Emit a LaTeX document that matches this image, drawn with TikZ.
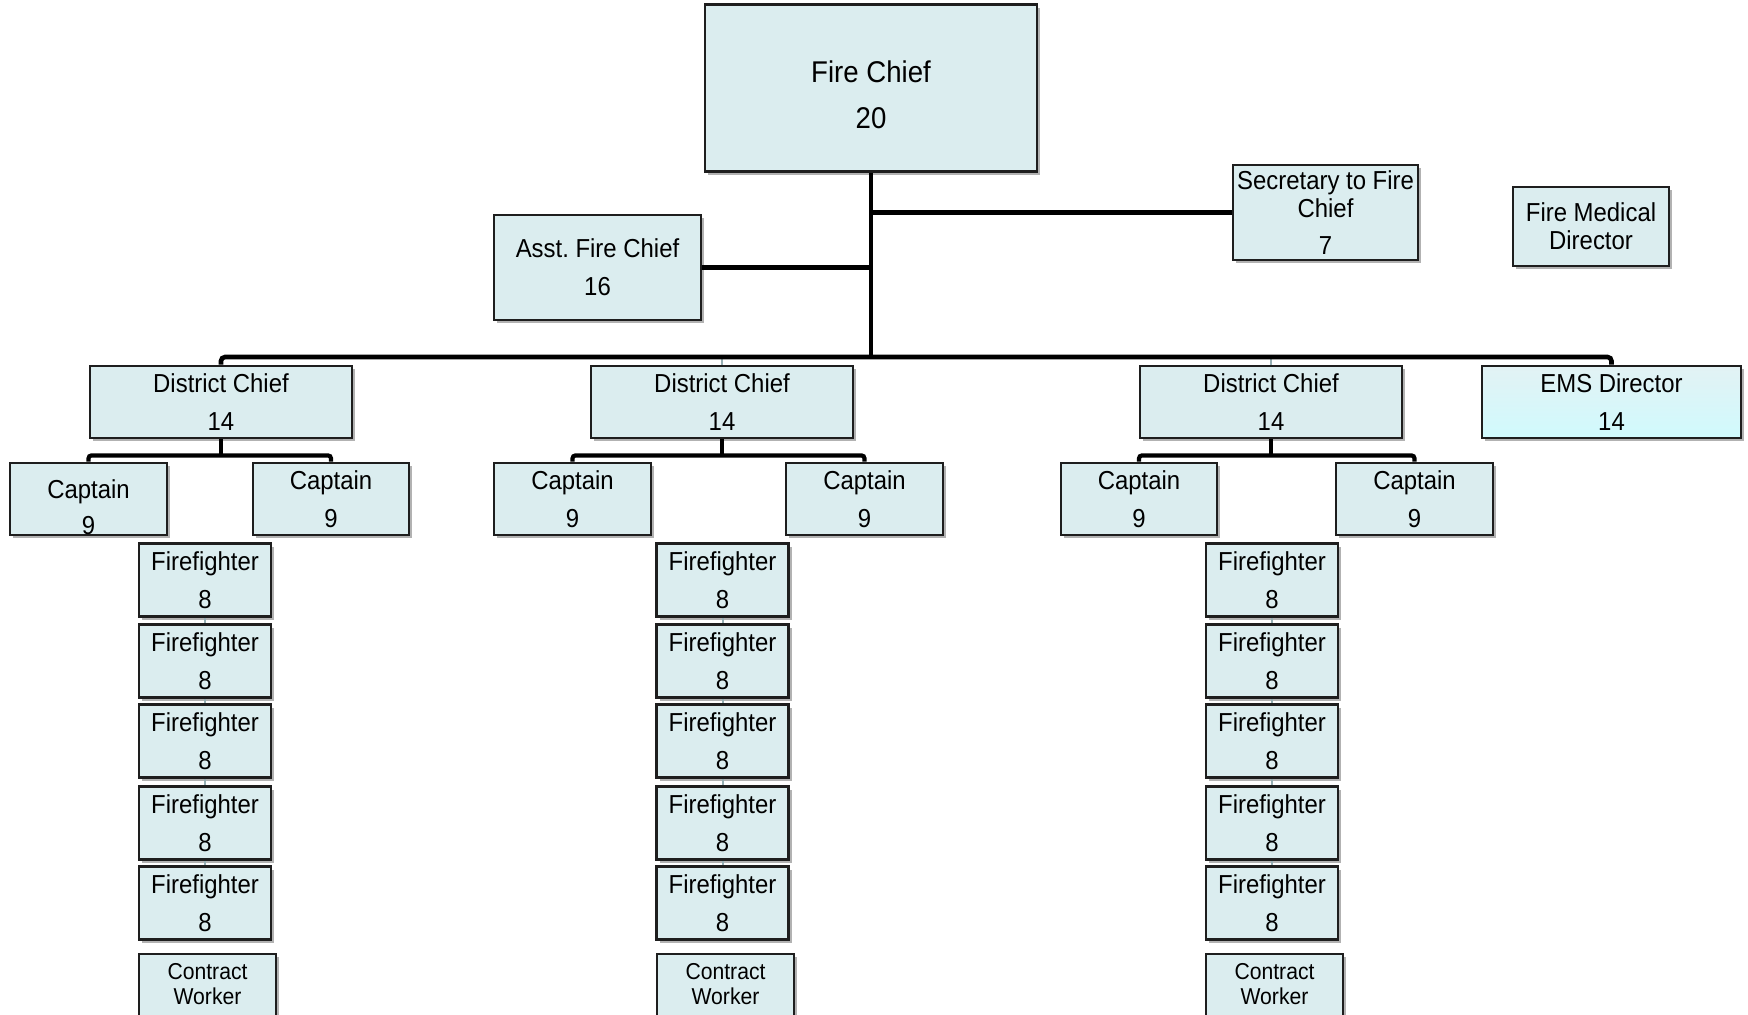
\documentclass[tikz,border=0pt]{standalone}
\usepackage{fontspec}
\setmainfont{Liberation Sans}[FakeStretch=0.92]
\usetikzlibrary{shadows,calc}
\definecolor{boxfill}{RGB}{219,237,239}
\definecolor{boxline}{RGB}{30,30,30}
\definecolor{faintline}{RGB}{150,175,180}
\begin{document}
\begin{tikzpicture}[x=0.5pt,y=-0.5pt,
  orgbox/.style={rectangle,draw=boxline,line width=1.4pt,fill=boxfill,
    inner sep=0pt,align=center,
    drop shadow={shadow xshift=1.5pt,shadow yshift=-1.5pt,opacity=0.3,fill=black}},
  sz/.style 2 args={minimum width=#1*0.5pt,minimum height=#2*0.5pt},
  std/.style={font=\fontsize{13}{19}\selectfont},
  conn/.style={line width=2.3pt,black},
  sub/.style={line width=2.1pt,black},
  faint/.style={line width=1pt,faintline},
  plain/.style={inner sep=0pt,align=center}]
\useasboundingbox (0,0) rectangle (1748,1014);
\clip (0,0) rectangle (1748,1014);

% top level
\node[orgbox,sz={332}{167}] (fc) at (871,88) {};
\node[plain,font=\fontsize{15}{23}\selectfont] (fct) at (871,95) {Fire Chief\\20};
\node[orgbox,sz={207}{105},std] (asst) at (597.5,267.5) {Asst.\ Fire Chief\\16};
\node[orgbox,sz={185}{95},font=\fontsize{13}{14}\selectfont] (sec) at (1325.5,212.5) {Secretary to Fire\\Chief\\[4.5pt]7};
\node[orgbox,sz={156}{79},font=\fontsize{13}{14}\selectfont] (fmd) at (1591,226.5) {Fire Medical\\Director};

% district level
\node[orgbox,sz={262}{72},std] (dc1) at (221,402) {District Chief\\14};
\node[orgbox,sz={262}{72},std] (dc2) at (722,402) {District Chief\\14};
\node[orgbox,sz={262}{72},std] (dc3) at (1271,402) {District Chief\\14};
\node[rectangle,draw=boxline,line width=1.4pt,inner sep=0pt,align=center,
  top color={rgb,255:red,226;green,242;blue,244},
  bottom color={rgb,255:red,208;green,250;blue,253},
  drop shadow={shadow xshift=1.5pt,shadow yshift=-1.5pt,opacity=0.3,fill=black},
  sz={259}{72},std] (ems) at (1611.5,402) {EMS Director\\14};

% captains
\node[orgbox,sz={157}{72}] (cap1) at (88.5,499) {};
\node[plain,font=\fontsize{13}{18}\selectfont] (cap1t) at (88.5,507) {Captain\\9};
\node[orgbox,sz={156}{72},std] (cap2) at (331,499) {Captain\\9};
\node[orgbox,sz={157}{72},std] (cap3) at (572.5,499) {Captain\\9};
\node[orgbox,sz={157}{72},std] (cap4) at (864.5,499) {Captain\\9};
\node[orgbox,sz={156}{72},std] (cap5) at (1139,499) {Captain\\9};
\node[orgbox,sz={157}{72},std] (cap6) at (1414.5,499) {Captain\\9};

% firefighter columns
\foreach \c/\x in {1/205,2/722.5,3/1272}{
  \foreach \r/\y in {1/580,2/661,3/741,4/823,5/903}{
    \node[orgbox,sz={132}{73},std] (ff\c\r) at (\x,\y) {Firefighter\\8};
  }
}
\node[orgbox,sz={137}{90},font=\fontsize{11.5}{12.3}\selectfont] (cw1) at (207.5,999) {Contract\\Worker\\[3pt]};
\node[orgbox,sz={137}{90},font=\fontsize{11.5}{12.3}\selectfont] (cw2) at (725.5,999) {Contract\\Worker\\[3pt]};
\node[orgbox,sz={137}{90},font=\fontsize{11.5}{12.3}\selectfont] (cw3) at (1274.5,999) {Contract\\Worker\\[3pt]};

% faint links inside each firefighter column
\foreach \c in {1,2,3}{
  \foreach \a/\b in {1/2,2/3,3/4,4/5}{
    \draw[faint] (ff\c\a.south) -- (ff\c\b.north);
  }
}

% main trunk and bus
\coordinate (bus) at (871,357);
\draw[conn] (fc.south) -- (bus);
\draw[conn] (fc.south |- sec.west) -- (sec.west);
\draw[conn] (asst.east) -- (asst.east -| fc.south);
\draw[faint] (dc2.north) -- (dc2.north |- bus);
\draw[faint] (dc3.north) -- (dc3.north |- bus);
\draw[conn,rounded corners=2pt] (dc1.north) -- (dc1.north |- bus) -- (ems.north |- bus) -- (ems.north);

% district chiefs to captains
\foreach \d/\l/\r in {dc1/cap1/cap2,dc2/cap3/cap4,dc3/cap5/cap6}{
  \coordinate (\d j) at ($(\d.south)+(0,16)$);
  \draw[sub] (\d.south) -- (\d j);
  \draw[sub,rounded corners=1.5pt] (\l.north) |- (\d j) -| (\r.north);
}
\end{tikzpicture}
\end{document}
